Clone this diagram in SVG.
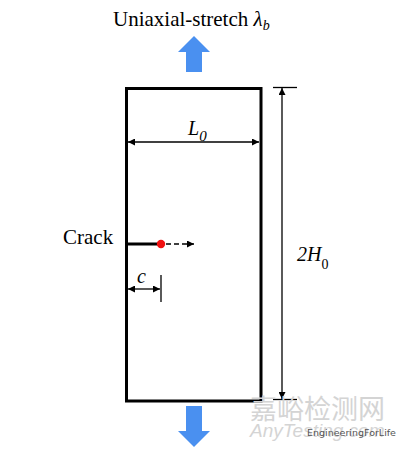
<svg xmlns="http://www.w3.org/2000/svg" width="400" height="450" viewBox="0 0 400 450">
<defs>
<style>
.t{font-family:"Liberation Serif","Times New Roman",serif;fill:#000}
.i{font-style:italic}
.dim{stroke:#000;stroke-width:1.3;fill:none}
.big{fill:#4a90f0}
</style>
<marker id="ah" viewBox="0 0 10 10" refX="10" refY="5" markerWidth="9" markerHeight="7" markerUnits="userSpaceOnUse" orient="auto-start-reverse">
<path d="M0,0 L10,5 L0,10 Z" fill="#000"/>
</marker>
</defs>
<rect width="400" height="450" fill="#fff"/>
<g id="title">
<text class="t" x="113" y="26" font-size="21">Uniaxial-stretch <tspan class="i">λ</tspan><tspan class="i" font-size="14" dy="4">b</tspan></text>
</g>
<g id="arrow-up">
<path class="big" d="M194,36 L210,52 L202,52 L202,72 L186,72 L186,52 L178,52 Z"/>
</g>
<g id="specimen">
<rect x="126.5" y="88.5" width="134.5" height="312.5" fill="none" stroke="#000" stroke-width="3"/>
</g>
<g id="arrow-down">
<path class="big" d="M194,447 L210,431 L202,431 L202,406 L186,406 L186,431 L178,431 Z"/>
</g>
<g id="crack">
<text class="t" x="63" y="244" font-size="21">Crack</text>
<line x1="127" y1="244" x2="161" y2="244" stroke="#000" stroke-width="3"/>
<circle cx="161" cy="244" r="4.2" fill="#f01010"/>
</g>
<g id="connectors">
<line x1="166" y1="244" x2="194" y2="244" stroke="#000" stroke-width="1.6" stroke-dasharray="5,3" marker-end="url(#ah)"/>
<line class="dim" x1="128" y1="142" x2="259" y2="142" marker-start="url(#ah)" marker-end="url(#ah)"/>
<line class="dim" x1="128" y1="289" x2="160" y2="289" marker-start="url(#ah)" marker-end="url(#ah)"/>
<line class="dim" x1="161" y1="275" x2="161" y2="302"/>
<line class="dim" x1="282" y1="88" x2="282" y2="399" marker-start="url(#ah)" marker-end="url(#ah)"/>
<line class="dim" x1="273" y1="87.5" x2="297" y2="87.5"/>
<line class="dim" x1="273" y1="399.5" x2="297" y2="399.5"/>
</g>
<g id="labels">
<text class="t i" x="188" y="135" font-size="20">L<tspan font-size="15" dy="6">0</tspan></text>
<text class="t i" x="137" y="283" font-size="20">c</text>
<text class="t" x="297" y="261" font-size="20"><tspan class="i">2H</tspan><tspan font-size="14" dy="8">0</tspan></text>
</g>
<g id="watermark">
<text x="250" y="419" font-size="27" fill="#d4d4d4" font-family="'Noto Sans CJK SC',sans-serif">嘉峪检测网</text>
<text x="250" y="437" font-size="19" fill="#d4d4d4" font-style="italic" font-family="'Liberation Sans',sans-serif">AnyTesting.com</text>
<text x="307" y="436" font-size="9.5" fill="#555" font-family="'DejaVu Sans',sans-serif">EngineeringForLife</text>
</g>
</svg>
